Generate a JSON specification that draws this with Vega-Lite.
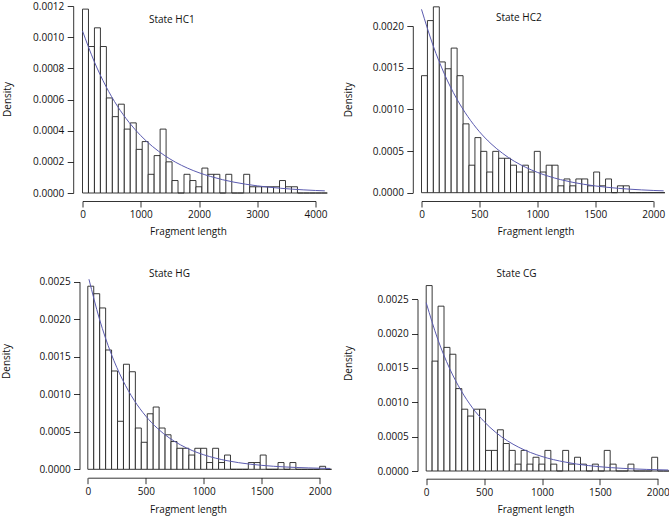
{
"$schema": "https://vega.github.io/schema/vega-lite/v6.json",
"background": "white",
"padding": {"left": 0.5, "top": 1, "right": 0, "bottom": 6},
"datasets": {
"bars": [
{"p":"HC1","x":0,"x2":102.5,"y":0.00118},{"p":"HC1","x":102.5,"x2":205,"y":0.00094},{"p":"HC1","x":205,"x2":307.5,"y":0.00106},{"p":"HC1","x":307.5,"x2":410,"y":0.00094},{"p":"HC1","x":410,"x2":512.5,"y":0.00061},{"p":"HC1","x":512.5,"x2":615,"y":0.00049},{"p":"HC1","x":615,"x2":717.5,"y":0.00057},{"p":"HC1","x":717.5,"x2":820,"y":0.00041},{"p":"HC1","x":820,"x2":922.5,"y":0.00045},{"p":"HC1","x":922.5,"x2":1025,"y":0.00028},{"p":"HC1","x":1025,"x2":1127.5,"y":0.00033},{"p":"HC1","x":1127.5,"x2":1230,"y":0.00012},{"p":"HC1","x":1230,"x2":1332.5,"y":0.00024},{"p":"HC1","x":1332.5,"x2":1435,"y":0.00041},{"p":"HC1","x":1435,"x2":1537.5,"y":0.0002},{"p":"HC1","x":1537.5,"x2":1640,"y":0.00008},{"p":"HC1","x":1640,"x2":1742.5,"y":0},{"p":"HC1","x":1742.5,"x2":1845,"y":0.00012},{"p":"HC1","x":1845,"x2":1947.5,"y":0.00008},{"p":"HC1","x":1947.5,"x2":2050,"y":0.00004},{"p":"HC1","x":2050,"x2":2152.5,"y":0.00016},{"p":"HC1","x":2152.5,"x2":2255,"y":0.00012},{"p":"HC1","x":2255,"x2":2357.5,"y":0.00012},{"p":"HC1","x":2357.5,"x2":2460,"y":0},{"p":"HC1","x":2460,"x2":2562.5,"y":0.00012},{"p":"HC1","x":2562.5,"x2":2665,"y":0},{"p":"HC1","x":2665,"x2":2767.5,"y":0},{"p":"HC1","x":2767.5,"x2":2870,"y":0.00012},{"p":"HC1","x":2870,"x2":2972.5,"y":0.00004},{"p":"HC1","x":2972.5,"x2":3075,"y":0.00004},{"p":"HC1","x":3075,"x2":3177.5,"y":0.00004},{"p":"HC1","x":3177.5,"x2":3280,"y":0.00004},{"p":"HC1","x":3280,"x2":3382.5,"y":0.00004},{"p":"HC1","x":3382.5,"x2":3485,"y":0.00008},{"p":"HC1","x":3485,"x2":3587.5,"y":0.00004},{"p":"HC1","x":3587.5,"x2":3690,"y":0.00004},{"p":"HC1","x":3690,"x2":3792.5,"y":0},{"p":"HC1","x":3792.5,"x2":3895,"y":0},{"p":"HC1","x":3895,"x2":3997.5,"y":0},{"p":"HC1","x":3997.5,"x2":4100,"y":0},{"p":"HC1","x":4100,"x2":4202.5,"y":0},
{"p":"HC2","x":0,"x2":51.25,"y":0.001404},{"p":"HC2","x":51.25,"x2":102.5,"y":0.002065},{"p":"HC2","x":102.5,"x2":153.75,"y":0.00223},{"p":"HC2","x":153.75,"x2":205,"y":0.001569},{"p":"HC2","x":205,"x2":256.25,"y":0.001487},{"p":"HC2","x":256.25,"x2":307.5,"y":0.001735},{"p":"HC2","x":307.5,"x2":358.75,"y":0.001404},{"p":"HC2","x":358.75,"x2":410,"y":0.000826},{"p":"HC2","x":410,"x2":461.25,"y":0.00033},{"p":"HC2","x":461.25,"x2":512.5,"y":0.000661},{"p":"HC2","x":512.5,"x2":563.75,"y":0.000496},{"p":"HC2","x":563.75,"x2":615,"y":0.000248},{"p":"HC2","x":615,"x2":666.25,"y":0.000496},{"p":"HC2","x":666.25,"x2":717.5,"y":0.000413},{"p":"HC2","x":717.5,"x2":768.75,"y":0.000413},{"p":"HC2","x":768.75,"x2":820,"y":0.00033},{"p":"HC2","x":820,"x2":871.25,"y":0.000248},{"p":"HC2","x":871.25,"x2":922.5,"y":0.00033},{"p":"HC2","x":922.5,"x2":973.75,"y":0.000248},{"p":"HC2","x":973.75,"x2":1025,"y":0.000496},{"p":"HC2","x":1025,"x2":1076.25,"y":0.000248},{"p":"HC2","x":1076.25,"x2":1127.5,"y":0.00033},{"p":"HC2","x":1127.5,"x2":1178.75,"y":0.00033},{"p":"HC2","x":1178.75,"x2":1230,"y":0.0000826},{"p":"HC2","x":1230,"x2":1281.25,"y":0.000165},{"p":"HC2","x":1281.25,"x2":1332.5,"y":0.0000826},{"p":"HC2","x":1332.5,"x2":1383.75,"y":0.000165},{"p":"HC2","x":1383.75,"x2":1435,"y":0.000165},{"p":"HC2","x":1435,"x2":1486.25,"y":0.0000826},{"p":"HC2","x":1486.25,"x2":1537.5,"y":0.000248},{"p":"HC2","x":1537.5,"x2":1588.75,"y":0.0000826},{"p":"HC2","x":1588.75,"x2":1640,"y":0.000165},{"p":"HC2","x":1640,"x2":1691.25,"y":0},{"p":"HC2","x":1691.25,"x2":1742.5,"y":0.0000826},{"p":"HC2","x":1742.5,"x2":1793.75,"y":0.0000826},{"p":"HC2","x":1793.75,"x2":1845,"y":0},{"p":"HC2","x":1845,"x2":1896.25,"y":0},{"p":"HC2","x":1896.25,"x2":1947.5,"y":0},{"p":"HC2","x":1947.5,"x2":1998.75,"y":0},{"p":"HC2","x":1998.75,"x2":2050,"y":0},{"p":"HC2","x":2050,"x2":2101.25,"y":0},
{"p":"HG","x":0,"x2":51.25,"y":0.00244},{"p":"HG","x":51.25,"x2":102.5,"y":0.00234},{"p":"HG","x":102.5,"x2":153.75,"y":0.00215},{"p":"HG","x":153.75,"x2":205,"y":0.00159},{"p":"HG","x":205,"x2":256.25,"y":0.00131},{"p":"HG","x":256.25,"x2":307.5,"y":0.00064},{"p":"HG","x":307.5,"x2":358.75,"y":0.0014},{"p":"HG","x":358.75,"x2":410,"y":0.0013},{"p":"HG","x":410,"x2":461.25,"y":0.00055},{"p":"HG","x":461.25,"x2":512.5,"y":0.00036},{"p":"HG","x":512.5,"x2":563.75,"y":0.00074},{"p":"HG","x":563.75,"x2":615,"y":0.00083},{"p":"HG","x":615,"x2":666.25,"y":0.00055},{"p":"HG","x":666.25,"x2":717.5,"y":0.00046},{"p":"HG","x":717.5,"x2":768.75,"y":0.00037},{"p":"HG","x":768.75,"x2":820,"y":0.00028},{"p":"HG","x":820,"x2":871.25,"y":0.00028},{"p":"HG","x":871.25,"x2":922.5,"y":0.00019},{"p":"HG","x":922.5,"x2":973.75,"y":0.00028},{"p":"HG","x":973.75,"x2":1025,"y":0.00028},{"p":"HG","x":1025,"x2":1076.25,"y":0.00009},{"p":"HG","x":1076.25,"x2":1127.5,"y":0.00028},{"p":"HG","x":1127.5,"x2":1178.75,"y":0.00009},{"p":"HG","x":1178.75,"x2":1230,"y":0.00019},{"p":"HG","x":1230,"x2":1281.25,"y":0},{"p":"HG","x":1281.25,"x2":1332.5,"y":0},{"p":"HG","x":1332.5,"x2":1383.75,"y":0},{"p":"HG","x":1383.75,"x2":1435,"y":0.00009},{"p":"HG","x":1435,"x2":1486.25,"y":0.00009},{"p":"HG","x":1486.25,"x2":1537.5,"y":0.00019},{"p":"HG","x":1537.5,"x2":1588.75,"y":0},{"p":"HG","x":1588.75,"x2":1640,"y":0},{"p":"HG","x":1640,"x2":1691.25,"y":0.00009},{"p":"HG","x":1691.25,"x2":1742.5,"y":0},{"p":"HG","x":1742.5,"x2":1793.75,"y":0.00009},{"p":"HG","x":1793.75,"x2":1845,"y":0},{"p":"HG","x":1845,"x2":1896.25,"y":0},{"p":"HG","x":1896.25,"x2":1947.5,"y":0},{"p":"HG","x":1947.5,"x2":1998.75,"y":0},{"p":"HG","x":1998.75,"x2":2050,"y":0.00004},{"p":"HG","x":2050,"x2":2101.25,"y":0},
{"p":"CG","x":0,"x2":51.25,"y":0.0027},{"p":"CG","x":51.25,"x2":102.5,"y":0.0016},{"p":"CG","x":102.5,"x2":153.75,"y":0.0024},{"p":"CG","x":153.75,"x2":205,"y":0.0018},{"p":"CG","x":205,"x2":256.25,"y":0.0017},{"p":"CG","x":256.25,"x2":307.5,"y":0.0012},{"p":"CG","x":307.5,"x2":358.75,"y":0.0009},{"p":"CG","x":358.75,"x2":410,"y":0.0008},{"p":"CG","x":410,"x2":461.25,"y":0.0009},{"p":"CG","x":461.25,"x2":512.5,"y":0.0009},{"p":"CG","x":512.5,"x2":563.75,"y":0.0003},{"p":"CG","x":563.75,"x2":615,"y":0.0003},{"p":"CG","x":615,"x2":666.25,"y":0.0006},{"p":"CG","x":666.25,"x2":717.5,"y":0.0004},{"p":"CG","x":717.5,"x2":768.75,"y":0.0003},{"p":"CG","x":768.75,"x2":820,"y":0.0001},{"p":"CG","x":820,"x2":871.25,"y":0.0003},{"p":"CG","x":871.25,"x2":922.5,"y":0.0001},{"p":"CG","x":922.5,"x2":973.75,"y":0.0002},{"p":"CG","x":973.75,"x2":1025,"y":0.0001},{"p":"CG","x":1025,"x2":1076.25,"y":0.0003},{"p":"CG","x":1076.25,"x2":1127.5,"y":0.0001},{"p":"CG","x":1127.5,"x2":1178.75,"y":0},{"p":"CG","x":1178.75,"x2":1230,"y":0.0003},{"p":"CG","x":1230,"x2":1281.25,"y":0.0001},{"p":"CG","x":1281.25,"x2":1332.5,"y":0.0002},{"p":"CG","x":1332.5,"x2":1383.75,"y":0.0001},{"p":"CG","x":1383.75,"x2":1435,"y":0},{"p":"CG","x":1435,"x2":1486.25,"y":0.0001},{"p":"CG","x":1486.25,"x2":1537.5,"y":0},{"p":"CG","x":1537.5,"x2":1588.75,"y":0.0003},{"p":"CG","x":1588.75,"x2":1640,"y":0.0001},{"p":"CG","x":1640,"x2":1691.25,"y":0},{"p":"CG","x":1691.25,"x2":1742.5,"y":0},{"p":"CG","x":1742.5,"x2":1793.75,"y":0.0001},{"p":"CG","x":1793.75,"x2":1845,"y":0},{"p":"CG","x":1845,"x2":1896.25,"y":0},{"p":"CG","x":1896.25,"x2":1947.5,"y":0},{"p":"CG","x":1947.5,"x2":1998.75,"y":0.0002},{"p":"CG","x":1998.75,"x2":2050,"y":0},{"p":"CG","x":2050,"x2":2101.25,"y":0}
],
"curve": [
{"p":"HC1","x":0,"y":0.00104},{"p":"HC1","x":200,"y":0.000845},{"p":"HC1","x":400,"y":0.000686},{"p":"HC1","x":600,"y":0.000557},{"p":"HC1","x":800,"y":0.000453},{"p":"HC1","x":1000,"y":0.000368},{"p":"HC1","x":1200,"y":0.000299},{"p":"HC1","x":1400,"y":0.000243},{"p":"HC1","x":1600,"y":0.000197},{"p":"HC1","x":1800,"y":0.00016},{"p":"HC1","x":2000,"y":0.00013},{"p":"HC1","x":2200,"y":0.000106},{"p":"HC1","x":2400,"y":0.0000857},{"p":"HC1","x":2600,"y":0.0000696},{"p":"HC1","x":2800,"y":0.0000565},{"p":"HC1","x":3000,"y":0.0000459},{"p":"HC1","x":3200,"y":0.0000373},{"p":"HC1","x":3400,"y":0.0000303},{"p":"HC1","x":3600,"y":0.0000246},{"p":"HC1","x":3800,"y":0.00002},{"p":"HC1","x":4000,"y":0.0000162},{"p":"HC1","x":4160,"y":0.0000138},
{"p":"HC2","x":0,"y":0.0022},{"p":"HC2","x":100,"y":0.001766},{"p":"HC2","x":200,"y":0.001417},{"p":"HC2","x":300,"y":0.001137},{"p":"HC2","x":400,"y":0.000913},{"p":"HC2","x":500,"y":0.000732},{"p":"HC2","x":600,"y":0.000588},{"p":"HC2","x":700,"y":0.000472},{"p":"HC2","x":800,"y":0.000378},{"p":"HC2","x":900,"y":0.000304},{"p":"HC2","x":1000,"y":0.000244},{"p":"HC2","x":1100,"y":0.000196},{"p":"HC2","x":1200,"y":0.000157},{"p":"HC2","x":1300,"y":0.000126},{"p":"HC2","x":1400,"y":0.000101},{"p":"HC2","x":1500,"y":0.0000812},{"p":"HC2","x":1600,"y":0.0000651},{"p":"HC2","x":1700,"y":0.0000523},{"p":"HC2","x":1800,"y":0.000042},{"p":"HC2","x":1900,"y":0.0000337},{"p":"HC2","x":2000,"y":0.000027},{"p":"HC2","x":2090,"y":0.0000222},
{"p":"HG","x":10,"y":0.002533},{"p":"HG","x":100,"y":0.002005},{"p":"HG","x":200,"y":0.001546},{"p":"HG","x":300,"y":0.001192},{"p":"HG","x":400,"y":0.000919},{"p":"HG","x":500,"y":0.000709},{"p":"HG","x":600,"y":0.000546},{"p":"HG","x":700,"y":0.000421},{"p":"HG","x":800,"y":0.000325},{"p":"HG","x":900,"y":0.00025},{"p":"HG","x":1000,"y":0.000193},{"p":"HG","x":1100,"y":0.000149},{"p":"HG","x":1200,"y":0.000115},{"p":"HG","x":1300,"y":0.0000885},{"p":"HG","x":1400,"y":0.0000682},{"p":"HG","x":1500,"y":0.0000526},{"p":"HG","x":1600,"y":0.0000406},{"p":"HG","x":1700,"y":0.0000313},{"p":"HG","x":1800,"y":0.0000241},{"p":"HG","x":1900,"y":0.0000186},{"p":"HG","x":2000,"y":0.0000143},{"p":"HG","x":2090,"y":0.0000114},
{"p":"CG","x":0,"y":0.00245},{"p":"CG","x":100,"y":0.001918},{"p":"CG","x":200,"y":0.001501},{"p":"CG","x":300,"y":0.001175},{"p":"CG","x":400,"y":0.000919},{"p":"CG","x":500,"y":0.00072},{"p":"CG","x":600,"y":0.000563},{"p":"CG","x":700,"y":0.000441},{"p":"CG","x":800,"y":0.000345},{"p":"CG","x":900,"y":0.00027},{"p":"CG","x":1000,"y":0.000211},{"p":"CG","x":1100,"y":0.000165},{"p":"CG","x":1200,"y":0.00013},{"p":"CG","x":1300,"y":0.000101},{"p":"CG","x":1400,"y":0.0000794},{"p":"CG","x":1500,"y":0.0000621},{"p":"CG","x":1600,"y":0.0000486},{"p":"CG","x":1700,"y":0.000038},{"p":"CG","x":1800,"y":0.0000298},{"p":"CG","x":1900,"y":0.0000233},{"p":"CG","x":2000,"y":0.0000182},{"p":"CG","x":2090,"y":0.0000146}
],
"labels": [
{"p":"HC1","label":"State HC1"},{"p":"HC2","label":"State HC2"},{"p":"HG","label":"State HG"},{"p":"CG","label":"State CG"}
]
},
"columns": 2,
"spacing": {"row": 89, "column": 106},
"bounds": "flush",
"resolve": {"scale": {"x": "independent", "y": "independent"}, "axis": {"x": "independent", "y": "independent"}},
"concat": [
{
"width": 233, "height": 187,
"layer": [
{"data": {"name": "bars"}, "transform": [{"filter": "datum.p === 'HC1'"}],
 "mark": {"type": "rect", "fill": "#ffffff", "stroke": "#222222", "strokeWidth": 0.9},
 "encoding": {
  "x": {"field": "x", "type": "quantitative", "scale": {"domain": [0, 4000], "range": [0, 233], "nice": false, "zero": false},
        "axis": {"values": [0, 1000, 2000, 3000, 4000], "tickCount": 20, "format": "d", "title": "Fragment length", "offset": 8, "titleX": 105.5, "titleY": 30, "labelOverlap": false}},
  "x2": {"field": "x2"},
  "y": {"field": "y", "type": "quantitative", "scale": {"domain": [0, 0.0012], "range": [187, 0], "nice": false, "zero": false},
        "axis": {"values": [0, 0.0002, 0.0004, 0.0006, 0.0008, 0.001, 0.0012], "tickCount": 20, "format": ".4f", "title": "Density", "offset": 9.3, "titleX": -66.2, "titleY": 93, "labelOverlap": false}},
  "y2": {"datum": 0}
 }},
{"data": {"name": "curve"}, "transform": [{"filter": "datum.p === 'HC1'"}],
 "mark": {"type": "line", "interpolate": "monotone", "stroke": "#5b5bb0", "strokeWidth": 1},
 "encoding": {"x": {"field": "x", "type": "quantitative"}, "y": {"field": "y", "type": "quantitative"}}},
{"data": {"name": "labels"}, "transform": [{"filter": "datum.p === 'HC1'"}],
 "mark": {"type": "text", "align": "center", "baseline": "middle"},
 "encoding": {"x": {"datum": 1533}, "y": {"datum": 0.001108}, "text": {"field": "label"}}}
]
},
{
"width": 233, "height": 187,
"layer": [
{"data": {"name": "bars"}, "transform": [{"filter": "datum.p === 'HC2'"}],
 "mark": {"type": "rect", "fill": "#ffffff", "stroke": "#222222", "strokeWidth": 0.9},
 "encoding": {
  "x": {"field": "x", "type": "quantitative", "scale": {"domain": [0, 2000], "range": [0, 231.7], "nice": false, "zero": false},
        "axis": {"values": [0, 500, 1000, 1500, 2000], "tickCount": 20, "format": "d", "title": "Fragment length", "offset": 8, "titleX": 114, "titleY": 30, "labelOverlap": false}},
  "x2": {"field": "x2"},
  "y": {"field": "y", "type": "quantitative", "scale": {"domain": [0, 0.002], "range": [186.7, 20], "nice": false, "zero": false},
        "axis": {"values": [0, 0.0005, 0.001, 0.0015, 0.002], "tickCount": 20, "format": ".4f", "title": "Density", "offset": 8.7, "titleX": -64, "titleY": 93.3, "labelOverlap": false}},
  "y2": {"datum": 0}
 }},
{"data": {"name": "curve"}, "transform": [{"filter": "datum.p === 'HC2'"}],
 "mark": {"type": "line", "interpolate": "monotone", "stroke": "#5b5bb0", "strokeWidth": 1},
 "encoding": {"x": {"field": "x", "type": "quantitative"}, "y": {"field": "y", "type": "quantitative"}}},
{"data": {"name": "labels"}, "transform": [{"filter": "datum.p === 'HC2'"}],
 "mark": {"type": "text", "align": "center", "baseline": "middle"},
 "encoding": {"x": {"datum": 840}, "y": {"datum": 0.002092}, "text": {"field": "label"}}}
]
},
{
"width": 233, "height": 187,
"layer": [
{"data": {"name": "bars"}, "transform": [{"filter": "datum.p === 'HG'"}],
 "mark": {"type": "rect", "fill": "#ffffff", "stroke": "#222222", "strokeWidth": 0.9},
 "encoding": {
  "x": {"field": "x", "type": "quantitative", "scale": {"domain": [0, 2000], "range": [5.3, 237.3], "nice": false, "zero": false},
        "axis": {"values": [0, 500, 1000, 1500, 2000], "tickCount": 20, "format": "d", "title": "Fragment length", "offset": 8.7, "titleX": 105.5, "titleY": 32, "labelOverlap": false}},
  "x2": {"field": "x2"},
  "y": {"field": "y", "type": "quantitative", "scale": {"domain": [0, 0.0025], "range": [187.3, -0.3], "nice": false, "zero": false},
        "axis": {"values": [0, 0.0005, 0.001, 0.0015, 0.002, 0.0025], "tickCount": 20, "format": ".4f", "title": "Density", "offset": 3, "titleX": -73.5, "titleY": 79, "labelOverlap": false}},
  "y2": {"datum": 0}
 }},
{"data": {"name": "curve"}, "transform": [{"filter": "datum.p === 'HG'"}],
 "mark": {"type": "line", "interpolate": "monotone", "stroke": "#5b5bb0", "strokeWidth": 1},
 "encoding": {"x": {"field": "x", "type": "quantitative"}, "y": {"field": "y", "type": "quantitative"}}},
{"data": {"name": "labels"}, "transform": [{"filter": "datum.p === 'HG'"}],
 "mark": {"type": "text", "align": "center", "baseline": "middle"},
 "encoding": {"x": {"datum": 704}, "y": {"datum": 0.002606}, "text": {"field": "label"}}}
]
},
{
"width": 233, "height": 187,
"layer": [
{"data": {"name": "bars"}, "transform": [{"filter": "datum.p === 'CG'"}],
 "mark": {"type": "rect", "fill": "#ffffff", "stroke": "#222222", "strokeWidth": 0.9},
 "encoding": {
  "x": {"field": "x", "type": "quantitative", "scale": {"domain": [0, 2000], "range": [4.7, 236.3], "nice": false, "zero": false},
        "axis": {"values": [0, 500, 1000, 1500, 2000], "tickCount": 20, "format": "d", "title": "Fragment length", "offset": 9.7, "titleX": 114, "titleY": 31, "labelOverlap": false}},
  "x2": {"field": "x2"},
  "y": {"field": "y", "type": "quantitative", "scale": {"domain": [0, 0.0025], "range": [189, 17.3], "nice": false, "zero": false},
        "axis": {"values": [0, 0.0005, 0.001, 0.0015, 0.002, 0.0025], "tickCount": 20, "format": ".4f", "title": "Density", "offset": 4, "titleX": -68.7, "titleY": 81, "labelOverlap": false}},
  "y2": {"datum": 0}
 }},
{"data": {"name": "curve"}, "transform": [{"filter": "datum.p === 'CG'"}],
 "mark": {"type": "line", "interpolate": "monotone", "stroke": "#5b5bb0", "strokeWidth": 1},
 "encoding": {"x": {"field": "x", "type": "quantitative"}, "y": {"field": "y", "type": "quantitative"}}},
{"data": {"name": "labels"}, "transform": [{"filter": "datum.p === 'CG'"}],
 "mark": {"type": "text", "align": "center", "baseline": "middle"},
 "encoding": {"x": {"datum": 780}, "y": {"datum": 0.002864}, "text": {"field": "label"}}}
]
}
],
"config": {
 "view": {"stroke": null},
 "font": "Open Sans",
 "text": {"font": "Open Sans", "fontSize": 10, "color": "#111111"},
 "axis": {"grid": false, "domainColor": "#000000", "domainWidth": 0.8, "tickColor": "#000000", "tickWidth": 0.8, "tickSize": 6,
          "labelFont": "Open Sans", "labelFontSize": 10, "labelColor": "#111111", "labelOverlap": false, "labelBound": false,
          "titleFont": "Open Sans", "titleFontSize": 10, "titleFontWeight": "normal", "titleColor": "#111111", "titleBaseline": "middle", "titleAlign": "center"},
 "axisX": {"labelFlush": false, "labelBaseline": "middle", "labelPadding": 7.5},
 "axisY": {"labelPadding": 3.4}
}
}
